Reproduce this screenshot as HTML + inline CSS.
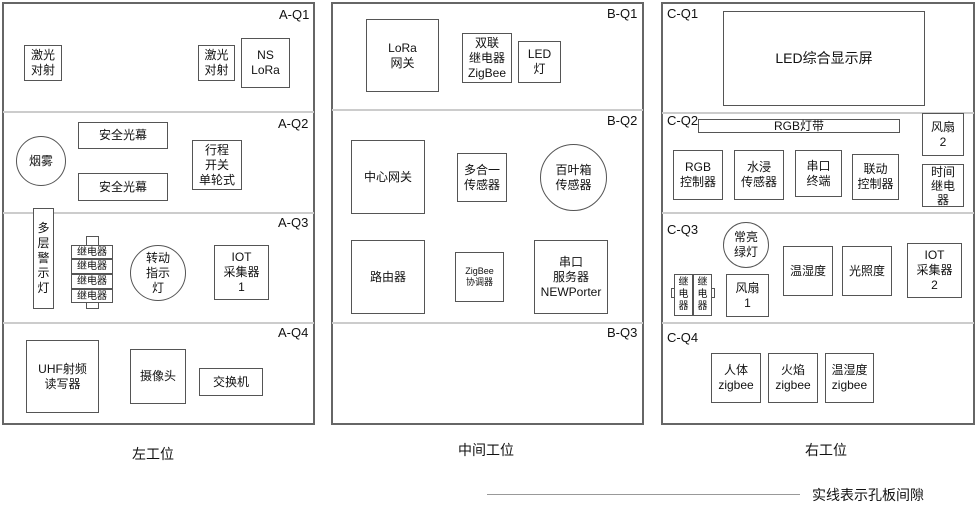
<!DOCTYPE html>
<html><head><meta charset="utf-8"><style>
body{margin:0;width:977px;height:515px;background:#fff;position:relative;overflow:hidden;font-family:"Liberation Sans","Noto Sans CJK SC",sans-serif;color:#111}
div{position:absolute;box-sizing:border-box}
.p{border:2px solid #666}
.h{height:0;border-top:2px solid #ccc}
.b{border:1.5px solid #555;display:flex;align-items:center;justify-content:center;text-align:center;font-size:12px;line-height:15px;background:#fff}
.c{border-radius:50%}
.l{font-size:13px}
</style></head><body>
<!-- panels -->
<div class="p" style="left:2px;top:2px;width:313px;height:423px"></div>
<div class="h" style="left:3px;top:111px;width:311px"></div>
<div class="h" style="left:3px;top:212px;width:311px"></div>
<div class="h" style="left:3px;top:322px;width:311px"></div>
<div class="p" style="left:331px;top:2px;width:313px;height:423px"></div>
<div class="h" style="left:332px;top:109px;width:311px"></div>
<div class="h" style="left:332px;top:322px;width:311px"></div>
<div class="p" style="left:661px;top:2px;width:314px;height:423px"></div>
<div class="h" style="left:662px;top:112px;width:312px"></div>
<div class="h" style="left:662px;top:212px;width:312px"></div>
<div class="h" style="left:662px;top:322px;width:312px"></div>
<!-- labels -->
<div class="l" style="left:279px;top:7px">A-Q1</div>
<div class="l" style="left:278px;top:116px">A-Q2</div>
<div class="l" style="left:278px;top:215px">A-Q3</div>
<div class="l" style="left:278px;top:325px">A-Q4</div>
<div class="l" style="left:607px;top:6px">B-Q1</div>
<div class="l" style="left:607px;top:113px">B-Q2</div>
<div class="l" style="left:607px;top:325px">B-Q3</div>
<div class="l" style="left:667px;top:6px">C-Q1</div>
<div class="l" style="left:667px;top:113px">C-Q2</div>
<div class="l" style="left:667px;top:222px">C-Q3</div>
<div class="l" style="left:667px;top:330px">C-Q4</div>
<!-- A -->
<div class="b" style="left:24px;top:45px;width:38px;height:36px">激光<br>对射</div>
<div class="b" style="left:198px;top:45px;width:37px;height:36px">激光<br>对射</div>
<div class="b" style="left:241px;top:38px;width:49px;height:50px">NS<br>LoRa</div>
<div class="b c" style="left:16px;top:136px;width:50px;height:50px">烟雾</div>
<div class="b" style="left:78px;top:122px;width:90px;height:27px">安全光幕</div>
<div class="b" style="left:78px;top:173px;width:90px;height:28px">安全光幕</div>
<div class="b" style="left:192px;top:140px;width:50px;height:50px">行程<br>开关<br>单轮式</div>
<div class="b" style="left:33px;top:208px;width:21px;height:101px">多<br>层<br>警<br>示<br>灯</div>
<div class="b" style="left:86px;top:236px;width:13px;height:73px"></div>
<div class="b" style="left:71px;top:245px;width:42px;height:14px;font-size:10px">继电器</div>
<div class="b" style="left:71px;top:259px;width:42px;height:15px;font-size:10px">继电器</div>
<div class="b" style="left:71px;top:274px;width:42px;height:15px;font-size:10px">继电器</div>
<div class="b" style="left:71px;top:289px;width:42px;height:14px;font-size:10px">继电器</div>
<div class="b c" style="left:130px;top:245px;width:56px;height:56px">转动<br>指示<br>灯</div>
<div class="b" style="left:214px;top:245px;width:55px;height:55px">IOT<br>采集器<br>1</div>
<div class="b" style="left:26px;top:340px;width:73px;height:73px">UHF射频<br>读写器</div>
<div class="b" style="left:130px;top:349px;width:56px;height:55px">摄像头</div>
<div class="b" style="left:199px;top:368px;width:64px;height:28px">交换机</div>
<!-- B -->
<div class="b" style="left:366px;top:19px;width:73px;height:73px">LoRa<br>网关</div>
<div class="b" style="left:462px;top:33px;width:50px;height:50px">双联<br>继电器<br>ZigBee</div>
<div class="b" style="left:518px;top:41px;width:43px;height:42px">LED<br>灯</div>
<div class="b" style="left:351px;top:140px;width:74px;height:74px">中心网关</div>
<div class="b" style="left:457px;top:153px;width:50px;height:49px">多合一<br>传感器</div>
<div class="b c" style="left:540px;top:144px;width:67px;height:67px">百叶箱<br>传感器</div>
<div class="b" style="left:351px;top:240px;width:74px;height:74px">路由器</div>
<div class="b" style="left:455px;top:252px;width:49px;height:50px;font-size:9px;line-height:11px">ZigBee<br>协调器</div>
<div class="b" style="left:534px;top:240px;width:74px;height:74px">串口<br>服务器<br>NEWPorter</div>
<!-- C -->
<div class="b" style="left:723px;top:11px;width:202px;height:95px;font-size:14px">LED综合显示屏</div>
<div class="b" style="left:698px;top:119px;width:202px;height:14px">RGB灯带</div>
<div class="b" style="left:922px;top:113px;width:42px;height:43px">风扇<br>2</div>
<div class="b" style="left:922px;top:164px;width:42px;height:43px;line-height:14px">时间<br>继电<br>器</div>
<div class="b" style="left:673px;top:150px;width:50px;height:50px">RGB<br>控制器</div>
<div class="b" style="left:734px;top:150px;width:50px;height:50px">水浸<br>传感器</div>
<div class="b" style="left:795px;top:150px;width:47px;height:47px">串口<br>终端</div>
<div class="b" style="left:852px;top:154px;width:47px;height:46px">联动<br>控制器</div>
<div class="b c" style="left:723px;top:222px;width:46px;height:46px">常亮<br>绿灯</div>
<div class="b" style="left:671px;top:288px;width:44px;height:10px"></div>
<div class="b" style="left:674px;top:274px;width:19px;height:42px;font-size:10px;line-height:12px">继<br>电<br>器</div>
<div class="b" style="left:693px;top:274px;width:19px;height:42px;font-size:10px;line-height:12px">继<br>电<br>器</div>
<div class="b" style="left:726px;top:274px;width:43px;height:43px">风扇<br>1</div>
<div class="b" style="left:783px;top:246px;width:50px;height:50px">温湿度</div>
<div class="b" style="left:842px;top:246px;width:50px;height:50px">光照度</div>
<div class="b" style="left:907px;top:243px;width:55px;height:55px">IOT<br>采集器<br>2</div>
<div class="b" style="left:711px;top:353px;width:50px;height:50px">人体<br>zigbee</div>
<div class="b" style="left:768px;top:353px;width:50px;height:50px">火焰<br>zigbee</div>
<div class="b" style="left:825px;top:353px;width:49px;height:50px">温湿度<br>zigbee</div>
<!-- bottom -->
<div style="left:132px;top:444px;font-size:14px">左工位</div>
<div style="left:458px;top:440px;font-size:14px">中间工位</div>
<div style="left:805px;top:440px;font-size:14px">右工位</div>
<div style="left:487px;top:494px;width:313px;height:0;border-top:1px solid #999"></div>
<div style="left:812px;top:485px;font-size:14px">实线表示孔板间隙</div>
</body></html>
